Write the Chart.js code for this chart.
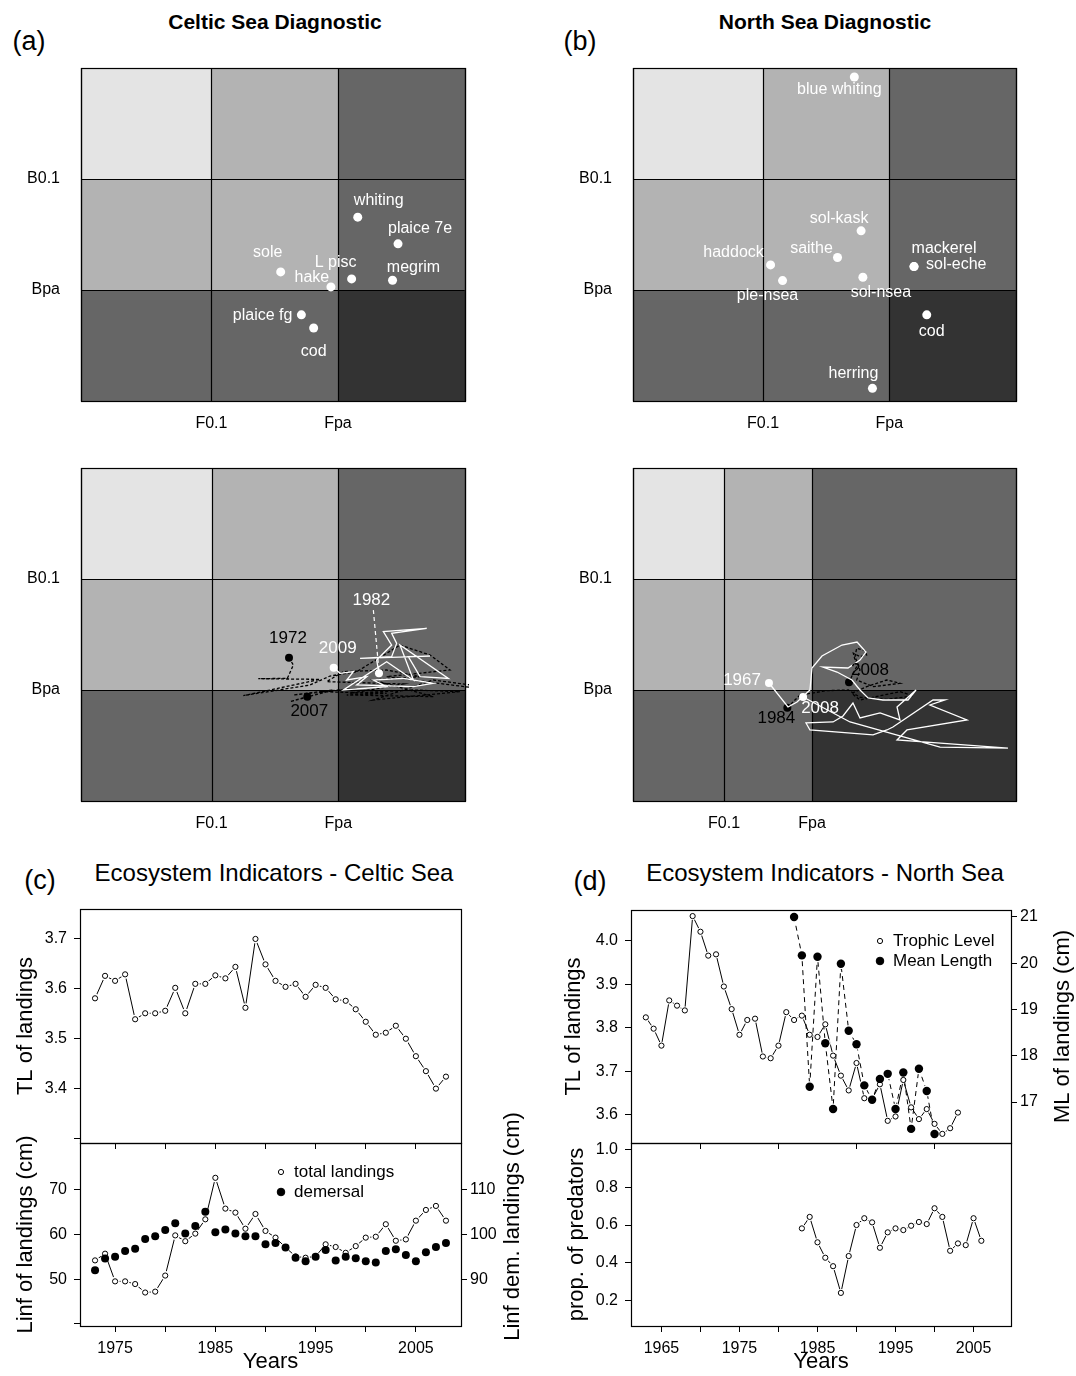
<!DOCTYPE html>
<html>
<head>
<meta charset="utf-8">
<script src="https://cdn.jsdelivr.net/npm/chart.js@4.4.0/dist/chart.umd.min.js"></script>
<style>
  body { margin: 0; background: #fff; }
  #page { position: relative; width: 1076px; height: 1376px; overflow: hidden; font-family: "Liberation Sans", Arial, sans-serif; }
  canvas { position: absolute; }
  .lbl { position: absolute; transform: translate(-50%, -50%); white-space: nowrap; color: #000; line-height: 1; }
</style>
</head>
<body>
<div id="page">
  <div class="lbl" style="left:29px;top:41px;font-size:27px">(a)</div>
  <div class="lbl" style="left:275px;top:21px;font-size:21px;font-weight:bold">Celtic Sea Diagnostic</div>
  <div class="lbl" style="left:580px;top:41px;font-size:27px">(b)</div>
  <div class="lbl" style="left:825px;top:21px;font-size:21px;font-weight:bold">North Sea Diagnostic</div>
  <div class="lbl" style="left:40px;top:880px;font-size:27px">(c)</div>
  <div class="lbl" style="left:274px;top:873px;font-size:24px">Ecosystem Indicators - Celtic Sea</div>
  <div class="lbl" style="left:590px;top:881px;font-size:27px">(d)</div>
  <div class="lbl" style="left:825px;top:873px;font-size:24px">Ecosystem Indicators - North Sea</div>

  <canvas id="diagA"></canvas>
  <canvas id="diagB"></canvas>
  <canvas id="trajA"></canvas>
  <canvas id="trajB"></canvas>
  <canvas id="celticTop"></canvas>
  <canvas id="celticBottom"></canvas>
  <canvas id="northTop"></canvas>
  <canvas id="northBottom"></canvas>
</div>
<script>
// ---- diagnostic plots: stock status (F and B relative to reference points)
const fLabels = ["F0.1", "Fpa"];
const bLabels = ["Bpa", "B0.1"];
const diagCellF = [0, 1.02, 2.01, 3];
const trajNorthCellF = [0, 0.713, 1.402, 3];
const cellB = [0, 1, 2, 3];

const celticStocks = ["whiting", "plaice 7e", "sole", "L pisc", "megrim", "hake", "plaice fg", "cod"];
const celticStockF = [2.165, 2.480, 1.562, 2.117, 2.437, 1.955, 1.724, 1.820];
const celticStockB = [1.656, 1.416, 1.163, 1.100, 1.088, 1.028, 0.776, 0.658];

const northStocks = ["blue whiting", "sol-kask", "saithe", "haddock", "ple-nsea", "sol-nsea", "mackerel", "sol-eche", "cod", "herring"];
const northStockF = [1.736, 1.789, 1.604, 1.079, 1.173, 1.803, 2.204, 2.204, 2.304, 1.878];
const northStockB = [2.919, 1.533, 1.293, 1.226, 1.085, 1.115, 1.211, 1.211, 0.776, 0.114];

// ---- trajectories
const celticWhiteYears = [1982, 2009];
const celticWhiteF = [2.328, 2.310, 2.427, 2.362, 2.701, 2.427, 2.466, 2.427, 2.180, 2.727, 2.557, 2.649, 2.870, 2.492, 2.597, 2.388, 2.050, 2.388, 2.284, 2.518, 2.753, 2.597, 2.154, 2.232, 2.076, 2.128, 2.024, 1.974];
const celticWhiteB = [1.150, 1.270, 1.405, 1.526, 1.556, 1.511, 1.420, 1.300, 1.285, 1.306, 1.300, 1.120, 1.105, 1.405, 1.090, 1.255, 1.000, 1.030, 1.090, 1.105, 1.060, 1.030, 1.045, 1.120, 1.090, 1.165, 1.150, 1.201];
const celticLeaderF = [2.284, 2.328];
const celticLeaderB = [1.720, 1.170];
const celticBlackYears = [1972, 2007];
const celticBlackF = [1.625, 1.659, 1.612, 1.385, 1.867, 1.477, 1.268, 1.789, 1.945, 2.154, 2.492, 2.727, 2.883, 2.388, 3.039, 3.104, 2.753, 2.284, 2.961, 2.597, 2.102, 2.518, 1.919, 2.050, 2.388, 2.649, 2.284, 2.753, 2.076, 2.388, 1.867, 2.154, 1.659, 1.971, 1.633, 1.768];
const celticBlackB = [1.291, 1.225, 1.105, 1.102, 1.096, 1.000, 0.949, 1.045, 1.126, 1.165, 1.405, 1.315, 1.180, 1.120, 1.024, 1.036, 1.090, 0.910, 0.985, 1.000, 0.970, 1.054, 1.075, 1.165, 1.180, 1.120, 1.090, 0.940, 0.955, 0.970, 0.985, 1.015, 0.955, 1.000, 0.895, 0.940];

const northWhiteYears = [1967, 2008];
const northWhiteF = [1.065, 1.214, 1.285, 1.386, 1.402, 1.480, 1.637, 1.755, 1.825, 1.778, 1.684, 1.488, 1.598, 1.715, 1.778, 1.841, 1.958, 2.154, 2.217, 2.068, 2.091, 1.935, 1.778, 1.723, 1.645, 1.567, 1.355, 1.386, 1.880, 1.989, 2.036, 2.350, 2.444, 2.326, 2.616, 2.146, 2.068, 2.381, 2.937, 2.405, 1.700, 1.332];
const northWhiteB = [1.063, 0.847, 0.892, 1.000, 1.198, 1.306, 1.405, 1.432, 1.342, 1.270, 1.198, 1.207, 1.162, 1.090, 1.000, 0.928, 0.910, 0.910, 1.000, 0.847, 0.730, 0.793, 0.748, 0.883, 0.766, 0.712, 0.703, 0.640, 0.595, 0.640, 0.667, 0.910, 0.910, 0.865, 0.730, 0.640, 0.550, 0.523, 0.477, 0.486, 0.712, 0.937];
const northBlackYears = [1984, 2008];
const northBlackF = [1.209, 1.308, 1.517, 1.687, 1.778, 1.987, 2.196, 2.091, 1.778, 1.713, 1.830, 1.987, 2.091, 1.883, 1.752, 1.778, 1.739, 1.752, 1.817, 1.830, 1.778, 1.726, 1.752, 1.713, 1.692];
const northBlackB = [0.841, 0.955, 0.994, 1.000, 0.934, 0.916, 0.946, 0.985, 0.910, 0.970, 1.030, 1.090, 1.060, 1.030, 1.090, 1.181, 1.301, 1.376, 1.355, 1.316, 1.301, 1.331, 1.211, 1.121, 1.069];

// ---- ecosystem indicators, Celtic Sea
const celticYears = [1973, 1974, 1975, 1976, 1977, 1978, 1979, 1980, 1981, 1982, 1983, 1984, 1985, 1986, 1987, 1988, 1989, 1990, 1991, 1992, 1993, 1994, 1995, 1996, 1997, 1998, 1999, 2000, 2001, 2002, 2003, 2004, 2005, 2006, 2007, 2008];
const celticTL = [3.580, 3.625, 3.615, 3.628, 3.538, 3.550, 3.550, 3.555, 3.601, 3.550, 3.609, 3.609, 3.626, 3.620, 3.643, 3.561, 3.699, 3.648, 3.615, 3.603, 3.609, 3.583, 3.607, 3.601, 3.578, 3.575, 3.558, 3.533, 3.507, 3.511, 3.525, 3.499, 3.464, 3.434, 3.399, 3.423];
const celticLinfTotal = [54.2, 55.7, 49.5, 49.5, 48.9, 47.0, 47.2, 50.8, 59.8, 58.5, 60.2, 63.4, 72.7, 65.8, 64.9, 61.3, 64.6, 60.8, 59.3, 57.1, 55.1, 54.8, 55.1, 57.8, 57.2, 55.9, 57.4, 59.3, 59.5, 62.3, 58.6, 58.9, 63.1, 65.5, 66.4, 63.1];
const celticLinfDemersal = [92.0, 94.6, 95.0, 96.3, 96.8, 99.0, 99.6, 101.0, 102.5, 100.2, 101.9, 105.1, 100.5, 101.1, 100.2, 99.6, 99.6, 97.8, 98.1, 97.1, 94.8, 94.0, 95.0, 96.5, 94.2, 95.0, 94.7, 94.0, 93.7, 96.3, 96.7, 95.4, 94.0, 96.0, 97.2, 98.1];

// ---- ecosystem indicators, North Sea
const northTLYears = [1963, 1964, 1965, 1966, 1967, 1968, 1969, 1970, 1971, 1972, 1973, 1974, 1975, 1976, 1977, 1978, 1979, 1980, 1981, 1982, 1983, 1984, 1985, 1986, 1987, 1988, 1989, 1990, 1991, 1992, 1993, 1994, 1995, 1996, 1997, 1998, 1999, 2000, 2001, 2002, 2003];
const northTL = [3.824, 3.798, 3.759, 3.863, 3.851, 3.840, 4.057, 4.021, 3.966, 3.969, 3.895, 3.843, 3.784, 3.818, 3.821, 3.734, 3.730, 3.759, 3.836, 3.818, 3.828, 3.784, 3.779, 3.808, 3.736, 3.690, 3.656, 3.719, 3.638, 3.636, 3.670, 3.586, 3.596, 3.680, 3.617, 3.590, 3.613, 3.579, 3.556, 3.569, 3.605];
const northMLYears = [1982, 1983, 1984, 1985, 1986, 1987, 1988, 1989, 1990, 1991, 1992, 1993, 1994, 1995, 1996, 1997, 1998, 1999, 2000];
const northML = [21.0, 20.17, 17.33, 20.14, 18.27, 16.85, 19.99, 18.54, 18.25, 17.36, 17.05, 17.50, 17.61, 16.85, 17.64, 16.42, 17.72, 17.24, 16.31];
const northPredYears = [1983, 1984, 1985, 1986, 1987, 1988, 1989, 1990, 1991, 1992, 1993, 1994, 1995, 1996, 1997, 1998, 1999, 2000, 2001, 2002, 2003, 2004, 2005, 2006];
const northPred = [0.582, 0.643, 0.508, 0.426, 0.381, 0.239, 0.435, 0.600, 0.636, 0.614, 0.479, 0.561, 0.582, 0.573, 0.596, 0.616, 0.605, 0.689, 0.643, 0.463, 0.502, 0.493, 0.636, 0.516];

// tick values and labels
const celticYearTicks = [1975, 1980, 1985, 1990, 1995, 2000, 2005];
const celticYearLabels = ["1975", "", "1985", "", "1995", "", "2005"];
const northYearTicks = [1965, 1970, 1975, 1980, 1985, 1990, 1995, 2000, 2005];
const northYearLabels = ["1965", "", "1975", "", "1985", "", "1995", "", "2005"];
const northTopYearTicks = [1970, 1980, 1990, 2000];
const tlCelticTicks = [3.3, 3.4, 3.5, 3.6, 3.7];
const tlCelticLabels = ["", "3.4", "3.5", "3.6", "3.7"];
const linfTicks = [40, 50, 60, 70];
const linfLabels = ["", "50", "60", "70"];
const linfDemTicks = [90, 100, 110];
const tlNorthTicks = [3.6, 3.7, 3.8, 3.9, 4.0];
const mlTicks = [17, 18, 19, 20, 21];
const predTicks = [0.2, 0.4, 0.6, 0.8, 1.0];

// styles
const cellShades = [
  ["#e4e4e4", "#b3b3b3", "#666666"],
  ["#b3b3b3", "#b3b3b3", "#666666"],
  ["#666666", "#666666", "#333333"]
];
const celticStockPos = [[21, -17, "center"], [22, -15, "center"], [-13, -19, "center"], [-16, -16, "center"], [21, -13, "center"], [-19, -9, "center"], [-9, 1, "right"], [0, 24, "center"]];
const northStockPos = [[-15, 13, "center"], [-22, -12, "center"], [-26, -9, "center"], [-37, -12, "center"], [-15, 15, "center"], [18, 15, "center"], [30, -18, "center"], [12, -2, "left"], [5, 17, "center"], [-19, -15, "center"]];

const FONT = '"Liberation Sans", Arial, sans-serif';
Chart.defaults.font.family = FONT;
Chart.defaults.font.size = 16;
Chart.defaults.color = "#000";
Chart.defaults.animation = false;
Chart.defaults.events = [];
Chart.defaults.plugins.legend.display = false;
Chart.defaults.plugins.tooltip.enabled = false;

const xy = (xs, ys) => xs.map((x, i) => ({ x: x, y: ys[i] }));

function place(id, left, top, w, h) {
  const c = document.getElementById(id);
  c.width = w; c.height = h;
  c.style.left = left + "px"; c.style.top = top + "px";
  c.style.width = w + "px"; c.style.height = h + "px";
  return c;
}

// scales keep exactly the size we give them, without label overhang padding
function fixSize(s, w, h) {
  if (w !== null) s.width = w;
  if (h !== null) s.height = h;
  s.paddingTop = 0; s.paddingBottom = 0; s.paddingLeft = 0; s.paddingRight = 0;
}

// plugins
const frame = {
  id: "frame",
  afterDraw(chart) {
    const { ctx, chartArea: a } = chart;
    ctx.save();
    ctx.strokeStyle = "#000";
    ctx.lineWidth = 1.2;
    ctx.strokeRect(Math.round(a.left) + 0.5, Math.round(a.top) + 0.5, Math.round(a.right - a.left), Math.round(a.bottom - a.top));
    ctx.restore();
  }
};

function cells(xb, yb) {
  return {
    id: "cells",
    beforeDatasetsDraw(chart) {
      const { ctx, scales: { x, y } } = chart;
      ctx.save();
      for (let r = 0; r < 3; r++) {
        for (let c = 0; c < 3; c++) {
          const x0 = Math.round(x.getPixelForValue(xb[c])), x1 = Math.round(x.getPixelForValue(xb[c + 1]));
          const y0 = Math.round(y.getPixelForValue(yb[3 - r])), y1 = Math.round(y.getPixelForValue(yb[2 - r]));
          ctx.fillStyle = cellShades[r][c];
          ctx.fillRect(x0, y0, x1 - x0, y1 - y0);
        }
      }
      ctx.strokeStyle = "#000";
      ctx.lineWidth = 1.2;
      ctx.beginPath();
      xb.forEach(v => { const p = Math.round(x.getPixelForValue(v)) + 0.5; ctx.moveTo(p, y.top); ctx.lineTo(p, y.bottom); });
      yb.forEach(v => { const p = Math.round(y.getPixelForValue(v)) + 0.5; ctx.moveTo(x.left, p); ctx.lineTo(x.right, p); });
      ctx.stroke();
      ctx.restore();
    }
  };
}

function pointText(items, size) {
  return {
    id: "pointText",
    afterDatasetsDraw(chart) {
      const ctx = chart.ctx;
      ctx.save();
      ctx.font = size + "px " + FONT;
      ctx.textBaseline = "middle";
      items.forEach(it => {
        const el = chart.getDatasetMeta(it.ds).data[it.i];
        ctx.fillStyle = it.color;
        ctx.textAlign = it.align || "center";
        ctx.fillText(it.text, el.x + it.dx, el.y + it.dy);
      });
      ctx.restore();
    }
  };
}

function keyBox(items, dx, dy, step) {
  return {
    id: "keyBox",
    afterDraw(chart) {
      const { ctx, chartArea: a } = chart;
      ctx.save();
      ctx.font = "17px " + FONT;
      ctx.textBaseline = "middle";
      ctx.textAlign = "left";
      items.forEach((it, k) => {
        const x = a.left + dx, y = a.top + dy + k * step;
        ctx.beginPath();
        ctx.arc(x, y, it.filled ? 3.8 : 2.6, 0, Math.PI * 2);
        ctx.fillStyle = it.filled ? "#000" : "#fff";
        ctx.fill();
        ctx.strokeStyle = "#000"; ctx.lineWidth = 1;
        ctx.stroke();
        ctx.fillStyle = "#000";
        ctx.fillText(it.text, x + 13, y);
      });
      ctx.restore();
    }
  };
}

function sideTitle(text, gap, shift) {
  return {
    id: "sideTitle",
    afterDraw(chart) {
      const { ctx, chartArea: a } = chart;
      ctx.save();
      ctx.translate(a.right + gap, (a.top + a.bottom) / 2 + shift);
      ctx.rotate(-Math.PI / 2);
      ctx.font = "22px " + FONT;
      ctx.fillStyle = "#000";
      ctx.textAlign = "center";
      ctx.textBaseline = "middle";
      ctx.fillText(text, 0, 0);
      ctx.restore();
    }
  };
}

// diagnostic axes
function diagScales(xb) {
  return {
    x: {
      type: "linear", min: 0, max: 3,
      afterBuildTicks: s => { s.ticks = [xb[1], xb[2]].map(v => ({ value: v })); },
      afterFit: s => fixSize(s, null, 40),
      ticks: { autoSkip: false, maxRotation: 0, padding: 5, font: { size: 16 }, callback: (v, i) => fLabels[i] },
      grid: { display: false }, border: { display: false }
    },
    y: {
      type: "linear", min: 0, max: 3,
      afterBuildTicks: s => { s.ticks = [cellB[1], cellB[2]].map(v => ({ value: v })); },
      afterFit: s => fixSize(s, 81, null),
      ticks: { autoSkip: false, padding: 13, font: { size: 16 }, callback: (v, i) => bLabels[i] },
      grid: { display: false }, border: { display: false }
    }
  };
}

function diagChart(id, left, top, right, xb, datasets, items, labelSize) {
  const w = right - left + 4;
  return new Chart(place(id, left, top, w, 381), {
    type: "scatter",
    data: { datasets: datasets },
    options: {
      responsive: false,
      layout: { padding: { top: 8, right: 4, left: 0, bottom: 0 } },
      scales: diagScales(xb)
    },
    plugins: [cells(xb, cellB), pointText(items, labelSize), frame]
  });
}

const stockDots = (f, b) => ({
  data: xy(f, b), showLine: false, pointRadius: 4.5,
  pointBackgroundColor: "#fff", pointBorderColor: "#fff", pointBorderWidth: 0
});

function trajectory(f, b, color, dashed) {
  const n = f.length;
  return {
    data: xy(f, b), showLine: true, tension: 0, clip: false,
    borderColor: color, borderWidth: 1.3, borderDash: dashed ? [3, 2] : [],
    pointRadius: c => (c.dataIndex === 0 || c.dataIndex === n - 1) ? 4 : 0,
    pointBackgroundColor: color, pointBorderColor: color, pointBorderWidth: 0
  };
}

// (a) Celtic Sea diagnostic
diagChart("diagA", 0, 60, 465, diagCellF,
  [stockDots(celticStockF, celticStockB)],
  celticStocks.map((t, i) => ({ ds: 0, i: i, text: t, color: "#fff", dx: celticStockPos[i][0], dy: celticStockPos[i][1], align: celticStockPos[i][2] })),
  16);

// (b) North Sea diagnostic
diagChart("diagB", 552, 60, 1016, diagCellF,
  [stockDots(northStockF, northStockB)],
  northStocks.map((t, i) => ({ ds: 0, i: i, text: t, color: "#fff", dx: northStockPos[i][0], dy: northStockPos[i][1], align: northStockPos[i][2] })),
  16);

// Celtic trajectories
diagChart("trajA", 0, 460, 465, diagCellF,
  [
    trajectory(celticWhiteF, celticWhiteB, "#fff", false),
    { data: xy(celticLeaderF, celticLeaderB), showLine: true, borderColor: "#fff", borderWidth: 1.2, borderDash: [4, 3], pointRadius: 0 },
    trajectory(celticBlackF, celticBlackB, "#000", true)
  ],
  [
    { ds: 2, i: 0, text: String(celticBlackYears[0]), color: "#000", dx: -1, dy: -19 },
    { ds: 2, i: celticBlackF.length - 1, text: String(celticBlackYears[1]), color: "#000", dx: 2, dy: 15 },
    { ds: 0, i: celticWhiteF.length - 1, text: String(celticWhiteYears[1]), color: "#fff", dx: 4, dy: -19 },
    { ds: 1, i: 0, text: String(celticWhiteYears[0]), color: "#fff", dx: -2, dy: -10 }
  ],
  17);

// North Sea trajectories
diagChart("trajB", 552, 460, 1016, trajNorthCellF,
  [
    trajectory(northWhiteF, northWhiteB, "#fff", false),
    trajectory(northBlackF, northBlackB, "#000", true)
  ],
  [
    { ds: 0, i: 0, text: String(northWhiteYears[0]), color: "#fff", dx: -8, dy: -3, align: "right" },
    { ds: 1, i: 0, text: String(northBlackYears[0]), color: "#000", dx: -11, dy: 11 },
    { ds: 0, i: northWhiteF.length - 1, text: String(northWhiteYears[1]), color: "#fff", dx: 17, dy: 11 },
    { ds: 1, i: northBlackF.length - 1, text: String(northBlackYears[1]), color: "#000", dx: 21, dy: -12 }
  ],
  17);

// ---- time-series axes
function axisY(min, max, ticks, labels, pos, width, title, titlePad) {
  return {
    type: "linear", position: pos, min: min, max: max,
    afterBuildTicks: s => { s.ticks = ticks.map(v => ({ value: v })); },
    afterFit: s => fixSize(s, width, null),
    ticks: { autoSkip: false, padding: pos === "left" ? 7 : 3, font: { size: 16 }, callback: (v, i) => labels[i] },
    grid: { drawOnChartArea: false, drawTicks: true, tickLength: 6, color: "#000" },
    border: { display: false },
    title: title ? { display: true, text: title, font: { size: 22 }, padding: { top: titlePad, bottom: 0 } } : { display: false }
  };
}

function axisX(min, max, ticks, labels, height, title) {
  return {
    type: "linear", position: "bottom", min: min, max: max,
    afterBuildTicks: s => { s.ticks = ticks.map(v => ({ value: v })); },
    afterFit: s => fixSize(s, null, height),
    ticks: { autoSkip: false, maxRotation: 0, padding: 7, font: { size: 16 }, callback: (v, i) => labels[i] },
    grid: { drawOnChartArea: false, drawTicks: true, tickLength: 6, color: "#000" },
    border: { display: false },
    title: title ? { display: true, text: title, font: { size: 22 }, padding: { top: 0, bottom: 1 } } : { display: false }
  };
}

const seriesLine = (pts, axis, dash, halo, order) => ({
  data: pts, yAxisID: axis, showLine: true, tension: 0,
  borderColor: "#000", borderWidth: 1, borderDash: dash,
  pointRadius: halo, pointBackgroundColor: "#fff", pointBorderWidth: 0, order: order
});
const openDots = (pts, axis, order) => ({
  data: pts, yAxisID: axis, showLine: false, pointRadius: 2.6,
  pointBackgroundColor: "#fff", pointBorderColor: "#000", pointBorderWidth: 1, order: order
});
const solidDots = (pts, axis, r, order) => ({
  data: pts, yAxisID: axis, showLine: false, pointRadius: r,
  pointBackgroundColor: "#000", pointBorderColor: "#000", pointBorderWidth: 0, order: order
});

const blank = t => t.map(() => "");

// (c) top: trophic level of landings
new Chart(place("celticTop", 0, 900, 540, 250), {
  type: "scatter",
  data: { datasets: [
    seriesLine(xy(celticYears, celticTL), "y", [], 4.5, 3),
    openDots(xy(celticYears, celticTL), "y", 1)
  ] },
  options: {
    responsive: false,
    layout: { padding: { top: 9, right: 79, left: 0, bottom: 0 } },
    scales: {
      x: axisX(1971.5, 2009.5, celticYearTicks, blank(celticYearTicks), 7, null),
      y: axisY(3.29, 3.759, tlCelticTicks, tlCelticLabels, "left", 80, "TL of landings", 13)
    }
  },
  plugins: [frame]
});

// (c) bottom: Linf of landings
new Chart(place("celticBottom", 0, 1093, 540, 283), {
  type: "scatter",
  data: { datasets: [
    seriesLine(xy(celticYears, celticLinfTotal), "y", [], 4.5, 3),
    openDots(xy(celticYears, celticLinfTotal), "y", 2),
    solidDots(xy(celticYears, celticLinfDemersal), "y1", 4, 1)
  ] },
  options: {
    responsive: false,
    layout: { padding: { top: 50, right: 0, left: 0, bottom: 0 } },
    scales: {
      x: axisX(1971.5, 2009.5, celticYearTicks, celticYearLabels, 50, "Years"),
      y: axisY(39.5, 80.5, linfTicks, linfLabels, "left", 80, "Linf of landings (cm)", 13),
      y1: axisY(79.5, 120.5, linfDemTicks, linfDemTicks.map(String), "right", 79, null, 0)
    }
  },
  plugins: [frame,
    keyBox([{ text: "total landings", filled: false }, { text: "demersal", filled: true }], 201, 29, 20),
    sideTitle("Linf dem. landings (cm)", 52, -8)]
});

// (d) top: trophic level and mean length of landings
new Chart(place("northTop", 540, 900, 536, 250), {
  type: "scatter",
  data: { datasets: [
    seriesLine(xy(northTLYears, northTL), "y", [], 4, 5),
    seriesLine(xy(northMLYears, northML), "y1", [5, 4], 5.5, 4),
    openDots(xy(northTLYears, northTL), "y", 2),
    solidDots(xy(northMLYears, northML), "y1", 4.2, 1)
  ] },
  options: {
    responsive: false,
    layout: { padding: { top: 10, right: 0, left: 0, bottom: 0 } },
    scales: {
      x: axisX(1961.1, 2009.8, northTopYearTicks, blank(northTopYearTicks), 7, null),
      y: axisY(3.535, 4.071, tlNorthTicks, tlNorthTicks.map(v => v.toFixed(1)), "left", 91, "TL of landings", 21),
      y1: axisY(16.115, 21.151, mlTicks, mlTicks.map(String), "right", 65, null, 0)
    }
  },
  plugins: [frame,
    keyBox([{ text: "Trophic Level", filled: false }, { text: "Mean Length", filled: true }], 249, 31, 20),
    sideTitle("ML of landings (cm)", 52, 0)]
});

// (d) bottom: proportion of predators
new Chart(place("northBottom", 540, 1133, 536, 243), {
  type: "scatter",
  data: { datasets: [
    seriesLine(xy(northPredYears, northPred), "y", [], 4, 3),
    openDots(xy(northPredYears, northPred), "y", 1)
  ] },
  options: {
    responsive: false,
    layout: { padding: { top: 10, right: 65, left: 0, bottom: 0 } },
    scales: {
      x: axisX(1961.1, 2009.8, northYearTicks, northYearLabels, 50, "Years"),
      y: axisY(0.063, 1.036, predTicks, predTicks.map(v => v.toFixed(1)), "left", 91, "prop. of predators", 24)
    }
  },
  plugins: [frame]
});
</script>
</body>
</html>
